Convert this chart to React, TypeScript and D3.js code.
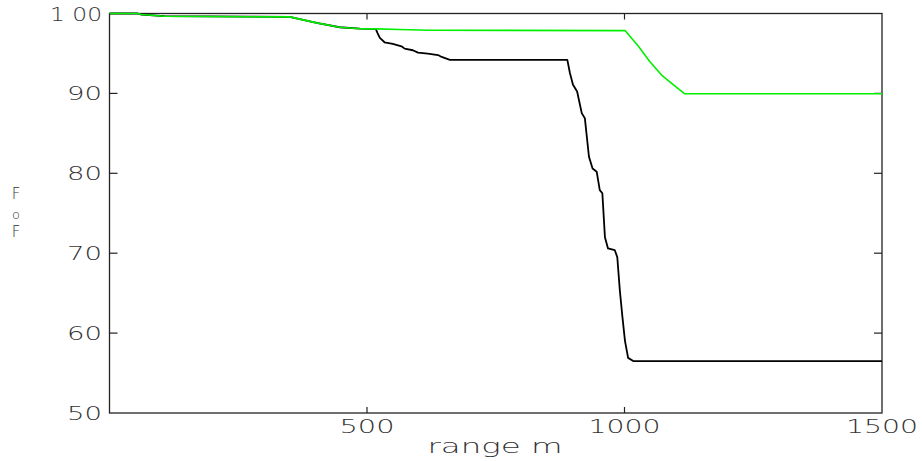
import React from "react";
import * as d3 from "d3";

// Range along the track (m) and FoF (%) for both runs
const greenRange = [0, 55, 62, 107, 272, 350, 402, 447, 486, 518, 563, 620, 1001, 1027, 1049, 1072, 1091, 1117, 1500];
const greenFoF = [100, 100, 99.87, 99.66, 99.6, 99.58, 98.83, 98.28, 98.1, 98.07, 98.0, 97.9, 97.86, 95.9, 94.0, 92.3, 91.3, 89.95, 89.95];

const blackRange = [0, 55, 62, 107, 272, 350, 402, 447, 486, 517, 520, 525, 534, 550, 567, 573, 589, 599, 618, 638, 645, 661, 889, 894, 900, 908, 917, 923, 931, 938, 946, 952, 957, 962, 968, 981, 986, 991, 996, 1001, 1007, 1017, 1500];
const blackFoF = [100, 100, 99.87, 99.66, 99.6, 99.58, 98.83, 98.28, 98.1, 98.07, 97.6, 96.95, 96.4, 96.2, 95.9, 95.6, 95.4, 95.1, 94.97, 94.8, 94.56, 94.2, 94.2, 92.55, 91.08, 90.24, 87.53, 86.9, 82.07, 80.6, 80.2, 77.9, 77.5, 72.0, 70.6, 70.4, 69.5, 65.3, 62.0, 59.0, 56.9, 56.5, 56.5];

const xTicks = [500, 1000, 1500];
const xTickLabels = ["500", "1000", "1500"];
const yTicks = [50, 60, 70, 80, 90, 100];
const yTickLabels = ["50", "60", "70", "80", "90", "1 00"];

const W = 922;
const H = 461;
const left = 109.5;
const right = 882;
const top = 13.5;
const bottom = 413;

const FONT = "'DejaVu Sans', sans-serif";
const TEXT = "#333";
const AXIS = "#222";

export default function App() {
  const x = d3.scaleLinear().domain([0, 1500]).range([left, right]);
  const y = d3.scaleLinear().domain([50, 100]).range([bottom, top]);

  const line = d3
    .line<[number, number]>()
    .x((d) => x(d[0]))
    .y((d) => y(d[1]));

  const green = line(greenRange.map((r, i) => [r, greenFoF[i]]) as [number, number][]) || "";
  const black = line(blackRange.map((r, i) => [r, blackFoF[i]]) as [number, number][]) || "";

  const labelWidth = (s: string) => (s.length === 4 ? 72 : s.length === 3 ? 55 : 35);

  return (
    <svg
      width={W}
      height={H}
      style={{ position: "absolute", left: 0, top: 0, background: "#fff" }}
    >
      <rect x={0} y={0} width={W} height={H} fill="#fff" />

      {/* plot frame */}
      <rect
        x={left}
        y={top}
        width={right - left}
        height={bottom - top}
        fill="none"
        stroke={AXIS}
        strokeWidth={1.3}
      />

      {/* x ticks on bottom and top edges */}
      {xTicks.slice(0, 2).map((t) => (
        <g key={"xt" + t}>
          <line x1={x(t)} x2={x(t)} y1={bottom} y2={bottom - 6} stroke={AXIS} strokeWidth={1.2} />
          <line x1={x(t)} x2={x(t)} y1={top} y2={top + 6} stroke={AXIS} strokeWidth={1.2} />
        </g>
      ))}
      {xTicks.map((t, i) => (
        <text
          key={"xl" + t}
          x={x(t)}
          y={433}
          textAnchor="middle"
          fontFamily={FONT}
          fontWeight={300}
          fontSize={19}
          fill={TEXT}
          textLength={labelWidth(xTickLabels[i])}
          lengthAdjust="spacingAndGlyphs"
        >
          {xTickLabels[i]}
        </text>
      ))}

      {/* y ticks on left and right edges */}
      {yTicks.slice(1, 5).map((t) => (
        <g key={"yt" + t}>
          <line x1={left} x2={left + 8} y1={y(t)} y2={y(t)} stroke={AXIS} strokeWidth={1.2} />
          <line x1={right} x2={right - 8} y1={y(t)} y2={y(t)} stroke={AXIS} strokeWidth={1.2} />
        </g>
      ))}
      {yTicks.map((t, i) => (
        <text
          key={"yl" + t}
          x={102}
          y={y(t) + 7}
          textAnchor="end"
          fontFamily={FONT}
          fontWeight={300}
          fontSize={19}
          fill={TEXT}
          textLength={t === 100 ? 52 : 35}
          lengthAdjust="spacingAndGlyphs"
        >
          {yTickLabels[i]}
        </text>
      ))}

      {/* axis titles */}
      <text
        x={495}
        y={453}
        textAnchor="middle"
        fontFamily={FONT}
        fontWeight={300}
        fontSize={19}
        fill={TEXT}
        textLength={135}
        lengthAdjust="spacingAndGlyphs"
      >
        range m
      </text>
      <g fontFamily={FONT} fontWeight={300} fill={TEXT} textAnchor="middle">
        <text x={16} y={199} fontSize={15}>F</text>
        <text x={16} y={219} fontSize={13}>o</text>
        <text x={16} y={237} fontSize={15}>F</text>
      </g>

      {/* curves */}
      <path d={black} fill="none" stroke="#000" strokeWidth={1.8} strokeLinejoin="round" />
      <path d={green} fill="none" stroke="#00f000" strokeWidth={1.6} strokeLinejoin="round" />
    </svg>
  );
}
